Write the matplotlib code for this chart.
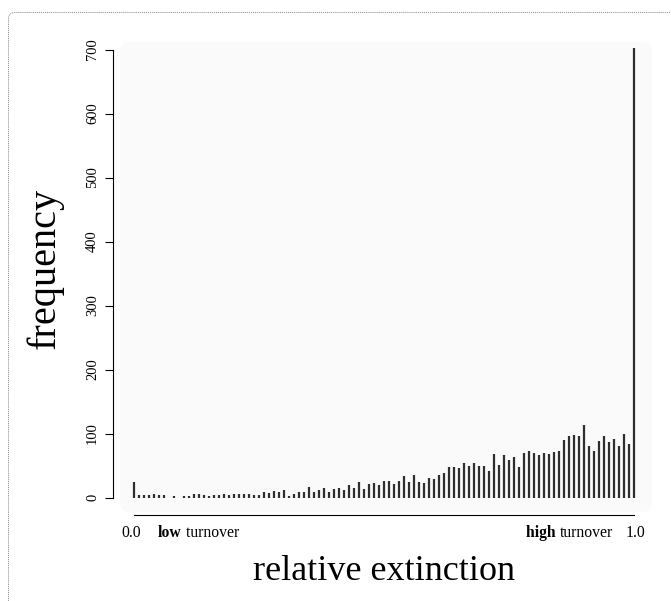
import matplotlib
matplotlib.use("Agg")
import matplotlib.pyplot as plt
from matplotlib.patches import FancyBboxPatch

# ---- data ----
rel_extinction = [i / 100 for i in range(101)]
frequency = [24, 4, 4, 4, 5, 4, 4, 0, 3, 0,
             3, 3, 5, 5, 4, 3, 4, 4, 6, 4,
             5, 6, 5, 5, 4, 4, 9, 7, 10, 9,
             12, 3, 6, 9, 9, 16, 9, 11, 15, 9,
             13, 15, 12, 20, 15, 24, 14, 21, 23, 19,
             26, 26, 21, 26, 34, 24, 35, 25, 22, 30,
             29, 35, 39, 47, 47, 46, 54, 50, 54, 50,
             49, 42, 68, 51, 66, 58, 63, 47, 69, 72,
             70, 66, 70, 68, 71, 73, 90, 96, 98, 96,
             114, 81, 73, 89, 96, 87, 92, 81, 99, 84,
             703]
y_ticks = [0, 100, 200, 300, 400, 500, 600, 700]
x_end_labels = ["0.0", "1.0"]

W, H = 671, 601
plt.rcParams['font.family'] = ['Liberation Serif', 'DejaVu Serif']
fig = plt.figure(figsize=(W / 100, H / 100), dpi=100)

def fx(px):
    return px / W

def fy(py):
    return 1 - py / H

# dotted outer border (cropped at right and bottom)
border = FancyBboxPatch((fx(8.5), fy(640)), fx(700), fy(12.5) - fy(640),
                        boxstyle="round,pad=0,rounding_size=0.01",
                        transform=fig.transFigure, fill=False,
                        edgecolor="#888888", linestyle=(0, (1, 1)),
                        linewidth=0.7, clip_on=False, zorder=-2)
fig.patches.append(border)

# light panel
panel = FancyBboxPatch((fx(120), fy(512)), fx(652) - fx(120), fy(42) - fy(512),
                       boxstyle="round,pad=0,rounding_size=0.015",
                       transform=fig.transFigure, facecolor="#fafafa",
                       edgecolor="none", zorder=-1)
fig.patches.append(panel)

# axes placement in pixels
left_px, right_px, top_px, bottom_px = 113, 655, 45, 515
ax = fig.add_axes([fx(left_px), fy(bottom_px), fx(right_px) - fx(left_px),
                   fy(top_px) - fy(bottom_px)], zorder=2)
ax.patch.set_alpha(0)

x0_px, x1_px = 133.7, 633.7
ax.set_xlim((left_px - x0_px) / (x1_px - x0_px), (right_px - x0_px) / (x1_px - x0_px))
y0_px, y700_px = 497.5, 49.5
upp = 700 / (y0_px - y700_px)
ax.set_ylim(-(bottom_px - y0_px) * upp, 700 + (y700_px - top_px) * upp)

ax.vlines(rel_extinction, 0, frequency, colors="#2e2e2e", linewidth=1.6)

for s in ["top", "right"]:
    ax.spines[s].set_visible(False)
ax.spines["left"].set_bounds(0, 700)
ax.spines["bottom"].set_bounds(0, 1)
ax.spines["left"].set_linewidth(0.8)
ax.spines["bottom"].set_linewidth(0.8)

ax.set_yticks(y_ticks)
ax.set_yticklabels([str(v) for v in y_ticks], rotation=90, va="center",
                   fontsize=10.5)
ax.tick_params(axis="y", length=6, width=0.8, pad=4)
ax.set_xticks([])

# x labels
fs = 11.3
ylab = fy(533)
fig.text(fx(131.5), ylab, x_end_labels[0], ha="center", va="center", fontsize=fs)
fig.text(fx(635.5), ylab, x_end_labels[1], ha="center", va="center", fontsize=fs)
t_low = fig.text(fx(158), ylab, "low", ha="left", va="center", fontsize=fs,
                 fontweight="bold")
ax.annotate(" turnover", xy=(1, 0.5), xycoords=t_low, ha="left", va="center",
            fontsize=fs, annotation_clip=False)
t_turn = fig.text(fx(613), ylab, "turnover", ha="right", va="center", fontsize=fs)
ax.annotate("high ", xy=(0, 0.5), xycoords=t_turn, ha="right", va="center",
            fontsize=fs, fontweight="bold", annotation_clip=False)

fig.text(fx(384), fy(571), "relative extinction", ha="center", va="center",
         fontsize=26)
fig.text(fx(45), fy(268), "frequency", ha="center", va="center",
         rotation=90, fontsize=29)

fig.savefig("out.png", dpi=100)
